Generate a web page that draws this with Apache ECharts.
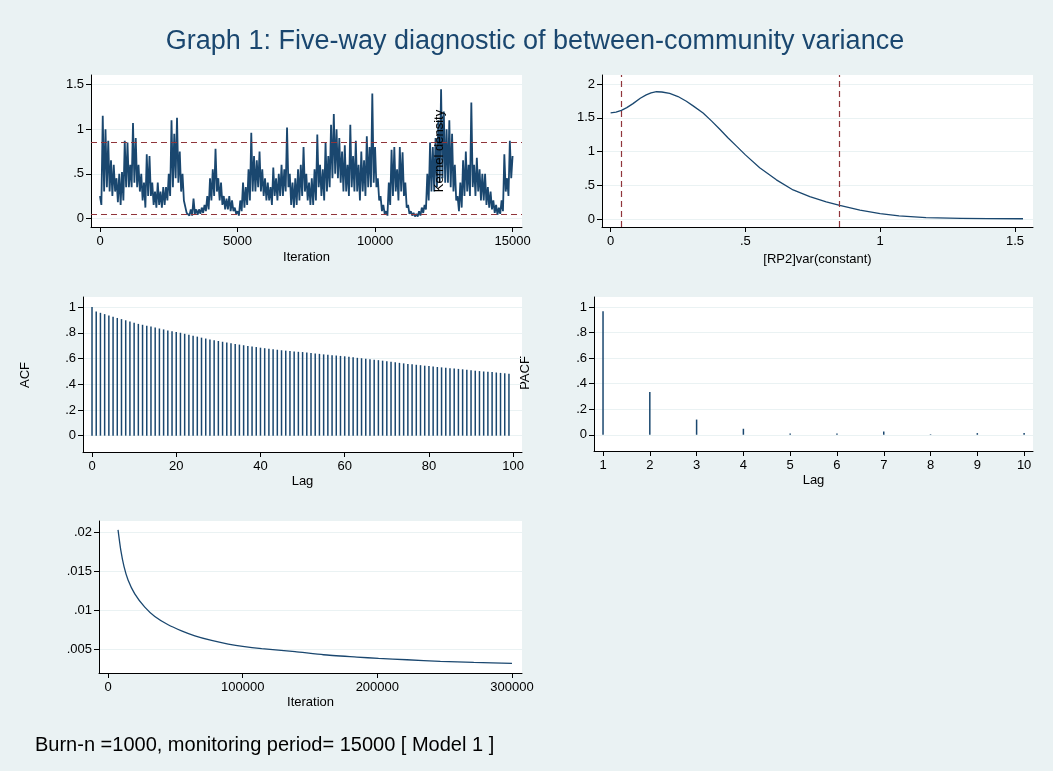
<!DOCTYPE html>
<html><head><meta charset="utf-8">
<script src="https://cdn.jsdelivr.net/npm/echarts@6/dist/echarts.min.js"></script>
<style>html,body{margin:0;padding:0;background:#EAF2F3}#c{width:1053px;height:771px}</style>
</head><body><div id="c"></div>
<script>
// ---------- data ----------
const traceStep = 100; // iterations between successive local maxima
const traceHi = [
  0.25,1.15,1.0,0.87,0.65,0.6,0.45,0.5,0.52,0.87,
  0.85,0.6,1.07,0.9,0.6,0.5,0.4,0.72,0.7,0.4,
  0.3,0.4,0.3,0.35,0.35,0.5,1.1,0.95,1.13,0.75,
  0.5,0.2,0.08,0.1,0.22,0.1,0.1,0.12,0.15,0.25,
  0.45,0.55,0.78,0.45,0.4,0.25,0.22,0.25,0.2,0.12,
  0.08,0.2,0.4,0.35,0.55,0.96,0.7,0.65,0.75,0.55,
  0.45,0.4,0.35,0.57,0.45,0.5,0.6,0.55,1.02,0.5,
  0.4,0.45,0.55,0.6,0.8,0.5,0.4,0.45,0.55,0.94,
  0.6,0.55,0.85,0.7,1.05,1.17,1.0,0.9,0.75,0.82,
  0.6,1.05,0.7,0.87,0.6,0.75,0.65,0.92,0.8,1.4,
  0.8,0.45,0.25,0.15,0.08,0.4,0.77,0.8,0.55,0.8,
  0.74,0.4,0.15,0.08,0.06,0.05,0.08,0.12,0.15,0.5,
  0.85,0.8,0.9,1.1,1.45,1.2,1.0,1.1,0.95,0.6,
  0.25,0.4,0.65,0.75,0.6,1.3,0.6,0.68,0.55,0.5,
  0.5,0.35,0.3,0.2,0.15,0.12,0.2,0.72,0.45,0.87
];
const traceLo = [
  0.15,0.3,0.35,0.3,0.25,0.3,0.18,0.15,0.2,0.35,
  0.35,0.35,0.4,0.35,0.3,0.2,0.12,0.25,0.25,0.15,
  0.12,0.15,0.12,0.15,0.2,0.25,0.35,0.45,0.4,0.3,
  0.2,0.06,0.03,0.03,0.05,0.04,0.05,0.06,0.08,0.1,
  0.2,0.25,0.3,0.2,0.15,0.1,0.1,0.08,0.08,0.05,
  0.03,0.08,0.12,0.15,0.2,0.3,0.3,0.35,0.3,0.25,
  0.2,0.2,0.15,0.25,0.2,0.25,0.25,0.3,0.35,0.15,
  0.12,0.15,0.2,0.25,0.3,0.2,0.15,0.15,0.2,0.35,
  0.25,0.2,0.3,0.35,0.45,0.5,0.45,0.4,0.3,0.3,
  0.25,0.35,0.3,0.3,0.2,0.3,0.25,0.35,0.35,0.4,
  0.35,0.2,0.08,0.05,0.03,0.15,0.25,0.3,0.2,0.3,
  0.25,0.12,0.05,0.03,0.02,0.02,0.03,0.06,0.1,0.2,
  0.3,0.3,0.35,0.4,0.45,0.4,0.4,0.35,0.3,0.2,
  0.08,0.12,0.25,0.3,0.25,0.35,0.25,0.3,0.2,0.2,
  0.15,0.12,0.1,0.06,0.04,0.05,0.08,0.3,0.25,0.45
];
const traceLast = [15000, 0.7];
const credInterval = [0.04, 0.85];

const densX = [0,0.02,0.04,0.06,0.083,0.11,0.132,0.15,0.17,0.19,0.219,0.25,0.281,0.31,0.343,0.375,0.405,0.435,0.467,0.5,0.553,0.615,0.677,0.739,0.8,0.85,0.925,1.0,1.07,1.17,1.3,1.4,1.53];
const densY = [1.574,1.585,1.61,1.65,1.71,1.79,1.84,1.87,1.886,1.882,1.86,1.815,1.745,1.665,1.57,1.45,1.33,1.205,1.08,0.95,0.76,0.58,0.43,0.33,0.255,0.2,0.13,0.08,0.045,0.02,0.01,0.006,0.003];

const acf = [
  1.0,0.966,0.955,0.945,0.935,0.925,0.915,0.906,0.897,0.888,
  0.878,0.869,0.862,0.855,0.848,0.840,0.833,0.826,0.818,0.812,
  0.806,0.800,0.792,0.785,0.777,0.770,0.762,0.755,0.748,0.742,
  0.736,0.730,0.724,0.718,0.713,0.708,0.703,0.698,0.694,0.689,
  0.684,0.680,0.676,0.672,0.668,0.664,0.661,0.658,0.655,0.652,
  0.650,0.646,0.643,0.639,0.636,0.632,0.629,0.626,0.623,0.620,
  0.617,0.613,0.609,0.605,0.602,0.598,0.594,0.590,0.587,0.583,
  0.578,0.574,0.570,0.566,0.562,0.558,0.555,0.551,0.548,0.544,
  0.541,0.538,0.534,0.531,0.528,0.525,0.522,0.519,0.516,0.512,
  0.508,0.505,0.502,0.499,0.496,0.494,0.491,0.488,0.485,0.482
];
const pacfLags = [1,2,3,4,5,6,7,8,9,10];
const pacf = [0.966,0.334,0.119,0.047,0.01,0.01,0.026,0.004,0.013,0.013];

const mcseIter = [7440,9450,11900,14880,19870,27300,34750,44650,54600,64500,76900,89300,100000,114100,138900,160000,184800,200900,222000,246800,271600,300000];
const mcseVal  = [0.0203,0.01775,0.01562,0.01392,0.01214,0.01044,0.00925,0.00819,0.00742,0.00678,0.00619,0.00573,0.00542,0.00513,0.00475,0.00436,0.00407,0.00389,0.00372,0.00351,0.00338,0.00325];

const traceXTicks = [0,5000,10000,15000];
const traceYTicks = [0,0.5,1,1.5];
const densXTicks = [0,0.5,1,1.5];
const densYTicks = [0,0.5,1,1.5,2];
const acfXTicks = [0,20,40,60,80,100];
const cfYTicks = [0,0.2,0.4,0.6,0.8,1];
const pacfXTicks = [1,2,3,4,5,6,7,8,9,10];
const mcseXTicks = [0,100000,200000,300000];
const mcseYTicks = [0.005,0.01,0.015,0.02];

// ---------- chart ----------
const FONT = 'Liberation Sans, Arial, sans-serif';
const NAVY = '#1a476f';
const MAROON = '#90353b';
const BG = '#EAF2F3';
function fmt(v){ const s = (+(+v).toPrecision(10)).toString(); return s.replace(/^0\./,'.').replace(/^-0\./,'-.'); }
function xAx(gi,min,max,ticks,name,gap){
  return {type:'value',gridIndex:gi,min:min,max:max,
    axisLine:{onZero:false,lineStyle:{color:'#000',width:1}},
    axisTick:{customValues:ticks,length:5,lineStyle:{color:'#000'}},
    axisLabel:{customValues:ticks,formatter:fmt,color:'#000',fontSize:13,margin:8,fontFamily:FONT},
    splitLine:{show:false},
    name:name,nameLocation:'middle',nameGap:gap,nameTextStyle:{color:'#000',fontSize:13,fontFamily:FONT}};
}
function yAx(gi,min,max,ticks){
  return {type:'value',gridIndex:gi,min:min,max:max,
    axisLine:{show:true,onZero:false,lineStyle:{color:'#000',width:1}},
    axisTick:{show:true,customValues:ticks,length:5,lineStyle:{color:'#000'}},
    axisLabel:{customValues:ticks,formatter:fmt,color:'#000',fontSize:13,margin:7,fontFamily:FONT},
    splitLine:{show:true,lineStyle:{color:BG,width:1.2}}};
}
const traceData = [];
for (let i=0;i<traceHi.length;i++){
  traceData.push([i*traceStep, traceHi[i]]);
  traceData.push([i*traceStep+traceStep/2, traceLo[i]]);
}
traceData.push(traceLast);

const dashed = {color:MAROON,type:[6,4],width:1.2};
const gridBase = {show:true,backgroundColor:'#fff',borderWidth:0,containLabel:false};
const option = {
  animation:false,
  backgroundColor:BG,
  grid:[
    Object.assign({left:91,top:75,width:431,height:152},gridBase),
    Object.assign({left:602,top:75,width:431,height:152},gridBase),
    Object.assign({left:83,top:297,width:439,height:155},gridBase),
    Object.assign({left:594,top:297,width:439,height:154},gridBase),
    Object.assign({left:99,top:521,width:423,height:152},gridBase)
  ],
  xAxis:[
    xAx(0,-327,15342,traceXTicks,'Iteration',24),
    xAx(1,-0.032,1.567,densXTicks,'[RP2]var(constant)',26),
    xAx(2,-2.14,102.1,acfXTicks,'Lag',23),
    xAx(3,0.807,10.19,pacfXTicks,'Lag',23),
    xAx(4,-6695,307440,mcseXTicks,'Iteration',23)
  ],
  yAxis:[
    yAx(0,-0.098,1.609,traceYTicks),
    yAx(1,-0.119,2.134,densYTicks),
    yAx(2,-0.127,1.078,cfYTicks),
    yAx(3,-0.127,1.078,cfYTicks),
    yAx(4,0.00203,0.02144,mcseYTicks)
  ],
  graphic:[
    {type:'text',x:535,y:42,style:{text:'Graph 1: Five-way diagnostic of between-community variance',fill:NAVY,font:'27px '+FONT,textAlign:'center',textVerticalAlign:'middle'}},
    {type:'text',x:439,y:151,rotation:Math.PI/2,z:100,style:{text:'Kernel density',fill:'#000',font:'13px '+FONT,textAlign:'center',textVerticalAlign:'middle'}},
    {type:'text',x:25,y:375,rotation:Math.PI/2,style:{text:'ACF',fill:'#000',font:'13px '+FONT,textAlign:'center',textVerticalAlign:'middle'}},
    {type:'text',x:525,y:373,rotation:Math.PI/2,style:{text:'PACF',fill:'#000',font:'13px '+FONT,textAlign:'center',textVerticalAlign:'middle'}},
    {type:'text',x:35,y:745,style:{text:'Burn-n =1000, monitoring period= 15000 [ Model 1 ]',fill:'#000',font:'20px '+FONT,textAlign:'left',textVerticalAlign:'middle'}}
  ],
  series:[
    {type:'line',xAxisIndex:0,yAxisIndex:0,data:traceData,showSymbol:false,lineStyle:{color:NAVY,width:1.8},
     markLine:{silent:true,symbol:'none',label:{show:false},lineStyle:dashed,data:credInterval.map(v=>({yAxis:v}))}},
    {type:'line',xAxisIndex:1,yAxisIndex:1,data:densX.map((x,i)=>[x,densY[i]]),smooth:false,showSymbol:false,lineStyle:{color:NAVY,width:1.3,join:'round'},
     markLine:{silent:true,symbol:'none',label:{show:false},lineStyle:dashed,data:credInterval.map(v=>({xAxis:v}))}},
    {type:'bar',xAxisIndex:2,yAxisIndex:2,data:acf.map((v,i)=>[i,v]),barWidth:1.5,itemStyle:{color:NAVY}},
    {type:'bar',xAxisIndex:3,yAxisIndex:3,data:pacf.map((v,i)=>[pacfLags[i],v]),barWidth:1.5,itemStyle:{color:NAVY}},
    {type:'line',xAxisIndex:4,yAxisIndex:4,data:mcseIter.map((x,i)=>[x,mcseVal[i]]),smooth:0.2,showSymbol:false,lineStyle:{color:NAVY,width:1.3}}
  ]
};
const chart = echarts.init(document.getElementById('c'),null,{renderer:'canvas'});
chart.setOption(option);
</script></body></html>
